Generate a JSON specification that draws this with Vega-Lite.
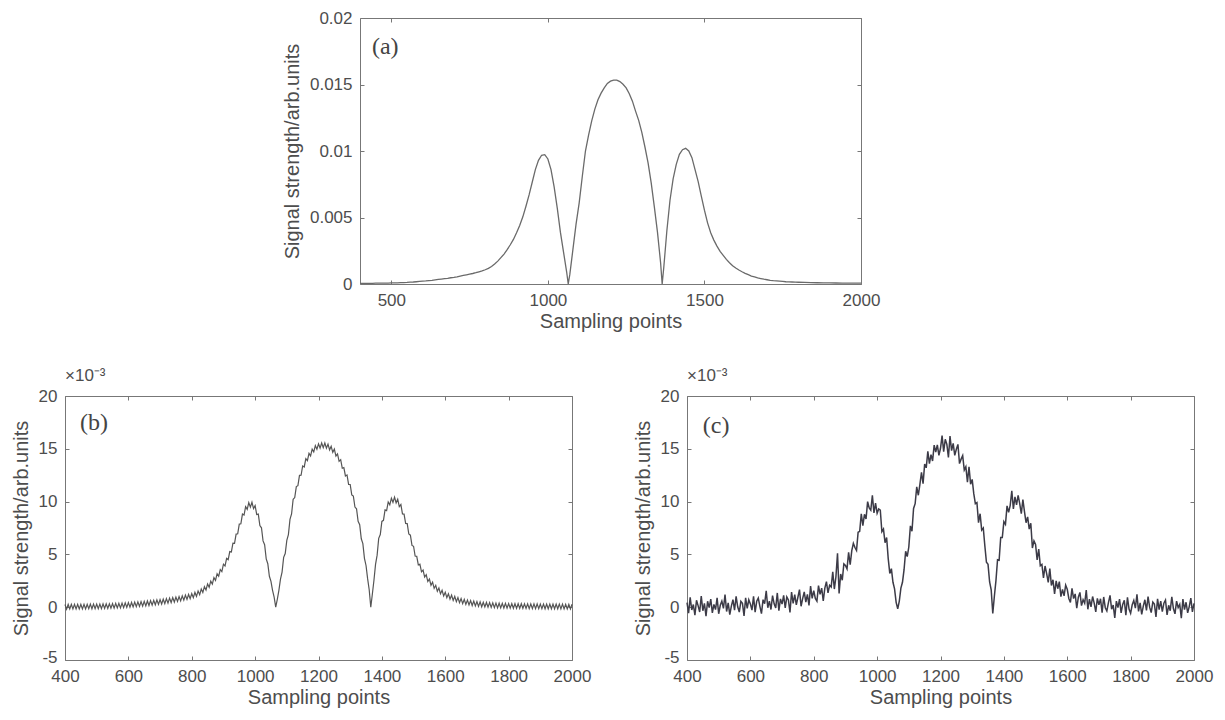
{
 "$schema": "https://vega.github.io/schema/vega-lite/v6.json",
 "background": "white",
 "padding": {"left": 10, "top": 8, "right": 5, "bottom": 5},
 "config": {
  "view": {"stroke": "#777777", "strokeWidth": 1},
  "font": "Liberation Sans",
  "axis": {"labelFont": "Liberation Sans", "labelFontSize": 17, "labelColor": "#4d4d4d", "titleFont": "Liberation Sans", "titleFontSize": 20, "titleFontWeight": "normal", "titleColor": "#4d4d4d", "grid": false, "domain": false, "tickColor": "#777777", "tickSize": -4, "labelFlush": false},
  "axisX": {"labelPadding": 12, "titlePadding": 3},
  "axisY": {"labelPadding": 12, "titlePadding": 7},
  "title": {"font": "Liberation Sans", "fontSize": 17, "fontWeight": "normal", "color": "#4d4d4d"}
 },
 "datasets": {
  "a": [
   {"x":400,"y":0.04},{"x":410,"y":0.04},{"x":420,"y":0.05},{"x":430,"y":0.05},{"x":440,"y":0.05},{"x":450,"y":0.06},{"x":460,"y":0.06},{"x":470,"y":0.06},{"x":480,"y":0.07},{"x":490,"y":0.07},
   {"x":500,"y":0.08},{"x":510,"y":0.08},{"x":520,"y":0.09},{"x":530,"y":0.10},{"x":540,"y":0.11},{"x":550,"y":0.12},{"x":560,"y":0.14},{"x":570,"y":0.15},{"x":580,"y":0.17},{"x":590,"y":0.19},
   {"x":600,"y":0.21},{"x":610,"y":0.23},{"x":620,"y":0.26},{"x":630,"y":0.28},{"x":640,"y":0.31},{"x":650,"y":0.34},{"x":660,"y":0.37},{"x":670,"y":0.40},{"x":680,"y":0.43},{"x":690,"y":0.47},
   {"x":700,"y":0.50},{"x":710,"y":0.54},{"x":720,"y":0.59},{"x":730,"y":0.64},{"x":740,"y":0.69},{"x":750,"y":0.74},{"x":760,"y":0.79},{"x":770,"y":0.85},{"x":780,"y":0.92},{"x":790,"y":0.99},
   {"x":800,"y":1.07},{"x":810,"y":1.18},{"x":820,"y":1.32},{"x":830,"y":1.50},{"x":840,"y":1.72},{"x":850,"y":1.98},{"x":860,"y":2.25},{"x":870,"y":2.58},{"x":880,"y":2.95},{"x":890,"y":3.35},
   {"x":900,"y":3.85},{"x":910,"y":4.4},{"x":920,"y":5.05},{"x":930,"y":5.85},{"x":940,"y":6.7},{"x":950,"y":7.65},{"x":960,"y":8.6},{"x":970,"y":9.3},{"x":980,"y":9.68},{"x":990,"y":9.72},
   {"x":1000,"y":9.4},{"x":1010,"y":8.6},{"x":1020,"y":7.3},{"x":1030,"y":5.7},{"x":1040,"y":3.9},{"x":1050,"y":2.4},{"x":1060,"y":0.9},{"x":1065,"y":0},{"x":1070,"y":0.7},{"x":1080,"y":2.6},{"x":1090,"y":4.5},
   {"x":1100,"y":6.1},{"x":1110,"y":8.1},{"x":1120,"y":10.0},{"x":1130,"y":11.2},{"x":1140,"y":12.26},{"x":1150,"y":13.15},{"x":1160,"y":13.85},{"x":1170,"y":14.35},{"x":1180,"y":14.75},{"x":1190,"y":15.08},
   {"x":1200,"y":15.25},{"x":1210,"y":15.33},{"x":1220,"y":15.33},{"x":1230,"y":15.22},{"x":1240,"y":15.02},{"x":1250,"y":14.75},{"x":1260,"y":14.3},{"x":1270,"y":13.75},{"x":1280,"y":13.0},{"x":1290,"y":12.3},
   {"x":1300,"y":11.4},{"x":1310,"y":10.3},{"x":1320,"y":9.1},{"x":1330,"y":7.6},{"x":1340,"y":5.8},{"x":1350,"y":3.9},{"x":1360,"y":1.6},{"x":1365,"y":0},{"x":1370,"y":1.2},{"x":1380,"y":4.0},{"x":1390,"y":6.3},
   {"x":1400,"y":7.9},{"x":1410,"y":9.0},{"x":1420,"y":9.75},{"x":1430,"y":10.1},{"x":1440,"y":10.2},{"x":1450,"y":10.0},{"x":1460,"y":9.5},{"x":1470,"y":8.6},{"x":1480,"y":7.7},{"x":1490,"y":6.6},
   {"x":1500,"y":5.55},{"x":1510,"y":4.6},{"x":1520,"y":3.85},{"x":1530,"y":3.3},{"x":1540,"y":2.85},{"x":1550,"y":2.45},{"x":1560,"y":2.15},{"x":1570,"y":1.85},{"x":1580,"y":1.6},{"x":1590,"y":1.38},
   {"x":1600,"y":1.2},{"x":1610,"y":1.05},{"x":1620,"y":0.92},{"x":1630,"y":0.8},{"x":1640,"y":0.7},{"x":1650,"y":0.6},{"x":1660,"y":0.53},{"x":1670,"y":0.46},{"x":1680,"y":0.41},{"x":1690,"y":0.36},
   {"x":1700,"y":0.32},{"x":1710,"y":0.28},{"x":1720,"y":0.25},{"x":1730,"y":0.23},{"x":1740,"y":0.21},{"x":1750,"y":0.19},{"x":1760,"y":0.17},{"x":1770,"y":0.16},{"x":1780,"y":0.15},{"x":1790,"y":0.14},
   {"x":1800,"y":0.13},{"x":1820,"y":0.12},{"x":1840,"y":0.105},{"x":1860,"y":0.095},{"x":1880,"y":0.088},{"x":1900,"y":0.08},{"x":1920,"y":0.076},{"x":1940,"y":0.072},{"x":1960,"y":0.068},{"x":1980,"y":0.064},{"x":2000,"y":0.06}
  ],
  "b": [
   {"x":400,"y":0.26},{"x":405,"y":-0.18},{"x":410,"y":0.26},{"x":415,"y":-0.17},{"x":420,"y":0.27},{"x":425,"y":-0.17},{"x":430,"y":0.27},{"x":435,"y":-0.17},{"x":440,"y":0.27},{"x":445,"y":-0.16},
   {"x":450,"y":0.28},{"x":455,"y":-0.16},{"x":460,"y":0.28},{"x":465,"y":-0.16},{"x":470,"y":0.28},{"x":475,"y":-0.15},{"x":480,"y":0.29},{"x":485,"y":-0.15},{"x":490,"y":0.29},{"x":495,"y":-0.14},
   {"x":500,"y":0.30},{"x":505,"y":-0.14},{"x":510,"y":0.30},{"x":515,"y":-0.13},{"x":520,"y":0.31},{"x":525,"y":-0.12},{"x":530,"y":0.32},{"x":535,"y":-0.11},{"x":540,"y":0.33},{"x":545,"y":-0.10},
   {"x":550,"y":0.34},{"x":555,"y":-0.09},{"x":560,"y":0.36},{"x":565,"y":-0.07},{"x":570,"y":0.37},{"x":575,"y":-0.06},{"x":580,"y":0.39},{"x":585,"y":-0.04},{"x":590,"y":0.41},{"x":595,"y":-0.02},
   {"x":600,"y":0.43},{"x":605,"y":0.0},{"x":610,"y":0.45},{"x":615,"y":0.02},{"x":620,"y":0.48},{"x":625,"y":0.05},{"x":630,"y":0.50},{"x":635,"y":0.07},{"x":640,"y":0.53},{"x":645,"y":0.10},
   {"x":650,"y":0.56},{"x":655,"y":0.13},{"x":660,"y":0.59},{"x":665,"y":0.16},{"x":670,"y":0.62},{"x":675,"y":0.19},{"x":680,"y":0.65},{"x":685,"y":0.23},{"x":690,"y":0.69},{"x":695,"y":0.26},
   {"x":700,"y":0.72},{"x":705,"y":0.30},{"x":710,"y":0.76},{"x":715,"y":0.34},{"x":720,"y":0.81},{"x":725,"y":0.39},{"x":730,"y":0.86},{"x":735,"y":0.44},{"x":740,"y":0.91},{"x":745,"y":0.49},
   {"x":750,"y":0.96},{"x":755,"y":0.54},{"x":760,"y":1.01},{"x":765,"y":0.60},{"x":770,"y":1.07},{"x":775,"y":0.66},{"x":780,"y":1.14},{"x":785,"y":0.73},{"x":790,"y":1.21},{"x":795,"y":0.81},
   {"x":800,"y":1.29},{"x":805,"y":0.90},{"x":810,"y":1.40},{"x":815,"y":1.03},{"x":820,"y":1.54},{"x":825,"y":1.19},{"x":830,"y":1.72},{"x":835,"y":1.39},{"x":840,"y":1.94},{"x":845,"y":1.63},
   {"x":850,"y":2.20},{"x":855,"y":1.89},{"x":860,"y":2.47},{"x":865,"y":2.19},{"x":870,"y":2.80},{"x":875,"y":2.54},{"x":880,"y":3.17},{"x":885,"y":2.93},{"x":890,"y":3.57},{"x":895,"y":3.38},
   {"x":900,"y":4.07},{"x":905,"y":3.90},{"x":910,"y":4.62},{"x":915,"y":4.50},{"x":920,"y":5.27},{"x":925,"y":5.23},{"x":930,"y":6.07},{"x":935,"y":6.05},{"x":940,"y":6.92},{"x":945,"y":6.95},
   {"x":950,"y":7.87},{"x":955,"y":7.90},{"x":960,"y":8.82},{"x":965,"y":8.73},{"x":970,"y":9.52},{"x":975,"y":9.27},{"x":980,"y":9.90},{"x":985,"y":9.48},{"x":990,"y":9.94},{"x":995,"y":9.34},
   {"x":1000,"y":9.62},{"x":1005,"y":8.78},{"x":1010,"y":8.82},{"x":1015,"y":7.73},{"x":1020,"y":7.52},{"x":1025,"y":6.28},{"x":1030,"y":5.92},{"x":1035,"y":4.58},{"x":1040,"y":4.12},{"x":1045,"y":2.93},
   {"x":1050,"y":2.45},{"x":1055,"y":1.60},{"x":1060,"y":0.95},{"x":1065,"y":0.0},{"x":1070,"y":0.75},{"x":1075,"y":1.60},{"x":1080,"y":2.65},{"x":1085,"y":3.33},{"x":1090,"y":4.72},{"x":1095,"y":5.08},
   {"x":1100,"y":6.32},{"x":1105,"y":6.88},{"x":1110,"y":8.32},{"x":1115,"y":8.83},{"x":1120,"y":10.22},{"x":1125,"y":10.38},{"x":1130,"y":11.42},{"x":1135,"y":11.51},{"x":1140,"y":12.48},{"x":1145,"y":12.49},
   {"x":1150,"y":13.37},{"x":1155,"y":13.28},{"x":1160,"y":14.07},{"x":1165,"y":13.88},{"x":1170,"y":14.57},{"x":1175,"y":14.33},{"x":1180,"y":14.97},{"x":1185,"y":14.70},{"x":1190,"y":15.30},{"x":1195,"y":14.95},
   {"x":1200,"y":15.47},{"x":1205,"y":15.07},{"x":1210,"y":15.55},{"x":1215,"y":15.11},{"x":1220,"y":15.55},{"x":1225,"y":15.06},{"x":1230,"y":15.44},{"x":1235,"y":14.90},{"x":1240,"y":15.24},{"x":1245,"y":14.67},
   {"x":1250,"y":14.97},{"x":1255,"y":14.31},{"x":1260,"y":14.52},{"x":1265,"y":13.81},{"x":1270,"y":13.97},{"x":1275,"y":13.16},{"x":1280,"y":13.22},{"x":1285,"y":12.43},{"x":1290,"y":12.52},{"x":1295,"y":11.63},
   {"x":1300,"y":11.62},{"x":1305,"y":10.63},{"x":1310,"y":10.52},{"x":1315,"y":9.48},{"x":1320,"y":9.32},{"x":1325,"y":8.13},{"x":1330,"y":7.82},{"x":1335,"y":6.48},{"x":1340,"y":6.02},{"x":1345,"y":4.63},
   {"x":1350,"y":3.95},{"x":1355,"y":2.70},{"x":1360,"y":1.65},{"x":1365,"y":0.0},{"x":1370,"y":1.25},{"x":1375,"y":2.55},{"x":1380,"y":4.05},{"x":1385,"y":4.93},{"x":1390,"y":6.52},{"x":1395,"y":6.88},
   {"x":1400,"y":8.12},{"x":1405,"y":8.23},{"x":1410,"y":9.22},{"x":1415,"y":9.15},{"x":1420,"y":9.97},{"x":1425,"y":9.70},{"x":1430,"y":10.32},{"x":1435,"y":9.93},{"x":1440,"y":10.42},{"x":1445,"y":9.88},
   {"x":1450,"y":10.22},{"x":1455,"y":9.53},{"x":1460,"y":9.72},{"x":1465,"y":8.83},{"x":1470,"y":8.82},{"x":1475,"y":7.93},{"x":1480,"y":7.92},{"x":1485,"y":6.93},{"x":1490,"y":6.82},{"x":1495,"y":5.85},
   {"x":1500,"y":5.77},{"x":1505,"y":4.85},{"x":1510,"y":4.82},{"x":1515,"y":4.00},{"x":1520,"y":4.07},{"x":1525,"y":3.35},{"x":1530,"y":3.52},{"x":1535,"y":2.85},{"x":1540,"y":3.07},{"x":1545,"y":2.43},
   {"x":1550,"y":2.67},{"x":1555,"y":2.08},{"x":1560,"y":2.37},{"x":1565,"y":1.78},{"x":1570,"y":2.07},{"x":1575,"y":1.50},{"x":1580,"y":1.82},{"x":1585,"y":1.27},{"x":1590,"y":1.60},{"x":1595,"y":1.07},
   {"x":1600,"y":1.42},{"x":1605,"y":0.90},{"x":1610,"y":1.27},{"x":1615,"y":0.76},{"x":1620,"y":1.14},{"x":1625,"y":0.64},{"x":1630,"y":1.02},{"x":1635,"y":0.53},{"x":1640,"y":0.92},{"x":1645,"y":0.43},
   {"x":1650,"y":0.82},{"x":1655,"y":0.34},{"x":1660,"y":0.75},{"x":1665,"y":0.27},{"x":1670,"y":0.68},{"x":1675,"y":0.21},{"x":1680,"y":0.63},{"x":1685,"y":0.16},{"x":1690,"y":0.58},{"x":1695,"y":0.12},
   {"x":1700,"y":0.54},{"x":1705,"y":0.08},{"x":1710,"y":0.50},{"x":1715,"y":0.04},{"x":1720,"y":0.47},{"x":1725,"y":0.02},{"x":1730,"y":0.45},{"x":1735,"y":0.0},{"x":1740,"y":0.43},{"x":1745,"y":-0.02},
   {"x":1750,"y":0.41},{"x":1755,"y":-0.04},{"x":1760,"y":0.39},{"x":1765,"y":-0.06},{"x":1770,"y":0.38},{"x":1775,"y":-0.07},{"x":1780,"y":0.37},{"x":1785,"y":-0.08},{"x":1790,"y":0.36},{"x":1795,"y":-0.09},
   {"x":1800,"y":0.35},{"x":1805,"y":-0.09},{"x":1810,"y":0.35},{"x":1815,"y":-0.10},{"x":1820,"y":0.34},{"x":1825,"y":-0.11},{"x":1830,"y":0.33},{"x":1835,"y":-0.11},{"x":1840,"y":0.33},{"x":1845,"y":-0.12},
   {"x":1850,"y":0.32},{"x":1855,"y":-0.12},{"x":1860,"y":0.32},{"x":1865,"y":-0.13},{"x":1870,"y":0.31},{"x":1875,"y":-0.13},{"x":1880,"y":0.31},{"x":1885,"y":-0.13},{"x":1890,"y":0.31},{"x":1895,"y":-0.14},
   {"x":1900,"y":0.30},{"x":1905,"y":-0.14},{"x":1910,"y":0.30},{"x":1915,"y":-0.15},{"x":1920,"y":0.30},{"x":1925,"y":-0.15},{"x":1930,"y":0.29},{"x":1935,"y":-0.15},{"x":1940,"y":0.29},{"x":1945,"y":-0.15},
   {"x":1950,"y":0.29},{"x":1955,"y":-0.15},{"x":1960,"y":0.29},{"x":1965,"y":-0.16},{"x":1970,"y":0.29},{"x":1975,"y":-0.16},{"x":1980,"y":0.28},{"x":1985,"y":-0.16},{"x":1990,"y":0.28},{"x":1995,"y":-0.16},{"x":2000,"y":0.28}
  ],
  "c": [
   {"x":400,"y":0.44},{"x":405,"y":-0.56},{"x":410,"y":0.94},{"x":415,"y":-0.26},{"x":420,"y":0.25},{"x":425,"y":-0.75},{"x":430,"y":0.65},{"x":435,"y":0.15},{"x":440,"y":-0.45},{"x":445,"y":1.06},
   {"x":450,"y":-0.34},{"x":455,"y":0.36},{"x":460,"y":-0.84},{"x":465,"y":0.56},{"x":470,"y":-0.04},{"x":475,"y":0.77},{"x":480,"y":-0.53},{"x":485,"y":0.27},{"x":490,"y":-0.23},{"x":495,"y":0.88},
   {"x":500,"y":-0.62},{"x":505,"y":0.18},{"x":510,"y":0.58},{"x":515,"y":-0.12},{"x":520,"y":1.19},{"x":525,"y":-0.41},{"x":530,"y":0.40},{"x":535,"y":-0.70},{"x":540,"y":0.11},{"x":545,"y":0.72},
   {"x":550,"y":-0.28},{"x":555,"y":1.03},{"x":560,"y":0.04},{"x":565,"y":-0.46},{"x":570,"y":0.55},{"x":575,"y":0.36},{"x":580,"y":-0.83},{"x":585,"y":0.88},{"x":590,"y":-0.11},{"x":595,"y":0.70},
   {"x":600,"y":0.31},{"x":605,"y":-0.28},{"x":610,"y":1.03},{"x":615,"y":-0.46},{"x":620,"y":0.56},{"x":625,"y":0.87},{"x":630,"y":0.08},{"x":635,"y":-0.61},{"x":640,"y":0.71},{"x":645,"y":0.33},
   {"x":650,"y":1.54},{"x":655,"y":-0.05},{"x":660,"y":0.57},{"x":665,"y":-0.22},{"x":670,"y":1.10},{"x":675,"y":0.32},{"x":680,"y":-0.07},{"x":685,"y":1.35},{"x":690,"y":-0.33},{"x":695,"y":0.79},
   {"x":700,"y":0.30},{"x":705,"y":1.12},{"x":710,"y":-0.06},{"x":715,"y":0.97},{"x":720,"y":0.69},{"x":725,"y":-0.49},{"x":730,"y":1.44},{"x":735,"y":0.37},{"x":740,"y":1.19},{"x":745,"y":0.22},
   {"x":750,"y":0.94},{"x":755,"y":1.67},{"x":760,"y":0.09},{"x":765,"y":0.82},{"x":770,"y":1.45},{"x":775,"y":0.49},{"x":780,"y":1.22},{"x":785,"y":0.16},{"x":790,"y":1.99},{"x":795,"y":0.83},
   {"x":800,"y":1.57},{"x":805,"y":0.83},{"x":810,"y":0.58},{"x":815,"y":2.05},{"x":820,"y":1.22},{"x":825,"y":1.81},{"x":830,"y":0.60},{"x":835,"y":1.81},{"x":840,"y":2.42},{"x":845,"y":1.35},
   {"x":850,"y":2.08},{"x":855,"y":1.92},{"x":860,"y":3.35},{"x":865,"y":1.72},{"x":870,"y":2.88},{"x":875,"y":5.1},{"x":880,"y":1.3},{"x":885,"y":3.15},{"x":890,"y":2.55},{"x":895,"y":4.10},
   {"x":900,"y":3.95},{"x":905,"y":3.63},{"x":910,"y":5.20},{"x":915,"y":4.03},{"x":920,"y":5.35},{"x":925,"y":6.05},{"x":930,"y":5.65},{"x":935,"y":5.38},{"x":940,"y":7.10},{"x":945,"y":7.18},
   {"x":950,"y":8.85},{"x":955,"y":7.73},{"x":960,"y":8.80},{"x":965,"y":8.35},{"x":970,"y":10.0},{"x":975,"y":9.39},{"x":980,"y":9.18},{"x":985,"y":10.60},{"x":990,"y":8.92},{"x":995,"y":9.86},
   {"x":1000,"y":8.90},{"x":1005,"y":9.30},{"x":1010,"y":9.20},{"x":1015,"y":7.15},{"x":1020,"y":7.40},{"x":1025,"y":6.10},{"x":1030,"y":6.60},{"x":1035,"y":4.60},{"x":1040,"y":3.20},{"x":1045,"y":3.65},
   {"x":1050,"y":2.36},{"x":1055,"y":1.73},{"x":1060,"y":0.46},{"x":1065,"y":-0.15},{"x":1070,"y":0.58},{"x":1075,"y":1.81},{"x":1080,"y":2.36},{"x":1085,"y":3.55},{"x":1090,"y":5.30},{"x":1095,"y":4.80},
   {"x":1100,"y":5.70},{"x":1105,"y":7.70},{"x":1110,"y":7.20},{"x":1115,"y":9.35},{"x":1120,"y":9.80},{"x":1125,"y":11.40},{"x":1130,"y":10.60},{"x":1135,"y":11.63},{"x":1140,"y":12.76},{"x":1145,"y":11.70},
   {"x":1150,"y":13.55},{"x":1155,"y":13.20},{"x":1160,"y":14.75},{"x":1165,"y":13.60},{"x":1170,"y":14.45},{"x":1175,"y":13.85},{"x":1180,"y":15.35},{"x":1185,"y":14.70},{"x":1190,"y":15.38},{"x":1195,"y":14.37},
   {"x":1200,"y":15.05},{"x":1205,"y":16.25},{"x":1210,"y":14.73},{"x":1215,"y":15.90},{"x":1220,"y":15.43},{"x":1225,"y":14.18},{"x":1230,"y":16.20},{"x":1235,"y":14.82},{"x":1240,"y":15.52},{"x":1245,"y":14.38},
   {"x":1250,"y":14.95},{"x":1255,"y":15.42},{"x":1260,"y":13.60},{"x":1265,"y":14.02},{"x":1270,"y":14.35},{"x":1275,"y":12.98},{"x":1280,"y":13.30},{"x":1285,"y":11.85},{"x":1290,"y":13.30},{"x":1295,"y":11.65},
   {"x":1300,"y":12.10},{"x":1305,"y":10.75},{"x":1310,"y":9.80},{"x":1315,"y":9.90},{"x":1320,"y":8.00},{"x":1325,"y":8.85},{"x":1330,"y":7.30},{"x":1335,"y":7.50},{"x":1340,"y":5.80},{"x":1345,"y":4.25},
   {"x":1350,"y":4.06},{"x":1355,"y":2.39},{"x":1360,"y":1.64},{"x":1365,"y":-0.6},{"x":1370,"y":1.04},{"x":1375,"y":2.52},{"x":1380,"y":4.50},{"x":1385,"y":4.45},{"x":1390,"y":6.60},{"x":1395,"y":6.60},
   {"x":1400,"y":8.10},{"x":1405,"y":7.85},{"x":1410,"y":9.60},{"x":1415,"y":8.98},{"x":1420,"y":9.65},{"x":1425,"y":11.03},{"x":1430,"y":9.30},{"x":1435,"y":10.45},{"x":1440,"y":9.70},{"x":1445,"y":10.60},
   {"x":1450,"y":9.80},{"x":1455,"y":8.85},{"x":1460,"y":10.20},{"x":1465,"y":9.05},{"x":1470,"y":8.00},{"x":1475,"y":8.55},{"x":1480,"y":7.40},{"x":1485,"y":7.95},{"x":1490,"y":5.60},{"x":1495,"y":6.28},
   {"x":1500,"y":5.95},{"x":1505,"y":4.48},{"x":1510,"y":5.50},{"x":1515,"y":3.93},{"x":1520,"y":4.05},{"x":1525,"y":2.78},{"x":1530,"y":3.90},{"x":1535,"y":3.18},{"x":1540,"y":2.35},{"x":1545,"y":3.65},
   {"x":1550,"y":2.05},{"x":1555,"y":2.60},{"x":1560,"y":1.25},{"x":1565,"y":2.50},{"x":1570,"y":1.75},{"x":1575,"y":2.43},{"x":1580,"y":1.00},{"x":1585,"y":1.69},{"x":1590,"y":1.08},{"x":1595,"y":2.09},
   {"x":1600,"y":1.70},{"x":1605,"y":0.83},{"x":1610,"y":0.45},{"x":1615,"y":1.79},{"x":1620,"y":0.82},{"x":1625,"y":1.26},{"x":1630,"y":-0.10},{"x":1635,"y":0.95},{"x":1640,"y":1.40},{"x":1645,"y":0.15},
   {"x":1650,"y":0.70},{"x":1655,"y":0.37},{"x":1660,"y":1.63},{"x":1665,"y":-0.20},{"x":1670,"y":0.76},{"x":1675,"y":0.04},{"x":1680,"y":1.01},{"x":1685,"y":0.39},{"x":1690,"y":-0.44},{"x":1695,"y":0.84},
   {"x":1700,"y":0.22},{"x":1705,"y":0.80},{"x":1710,"y":-0.52},{"x":1715,"y":0.97},{"x":1720,"y":-0.05},{"x":1725,"y":-0.36},{"x":1730,"y":0.43},{"x":1735,"y":1.12},{"x":1740,"y":-0.19},{"x":1745,"y":0.20},
   {"x":1750,"y":-1.01},{"x":1755,"y":0.58},{"x":1760,"y":-0.03},{"x":1765,"y":0.77},{"x":1770,"y":-0.54},{"x":1775,"y":0.26},{"x":1780,"y":0.65},{"x":1785,"y":-0.76},{"x":1790,"y":0.94},{"x":1795,"y":-0.17},
   {"x":1800,"y":-0.57},{"x":1805,"y":0.23},{"x":1810,"y":0.63},{"x":1815,"y":-0.08},{"x":1820,"y":1.22},{"x":1825,"y":-0.39},{"x":1830,"y":0.41},{"x":1835,"y":-0.69},{"x":1840,"y":0.11},{"x":1845,"y":0.70},
   {"x":1850,"y":-0.30},{"x":1855,"y":1.00},{"x":1860,"y":0.0},{"x":1865,"y":-0.51},{"x":1870,"y":0.49},{"x":1875,"y":0.29},{"x":1880,"y":-0.91},{"x":1885,"y":0.79},{"x":1890,"y":-0.22},{"x":1895,"y":0.58},
   {"x":1900,"y":-0.42},{"x":1905,"y":0.38},{"x":1910,"y":0.68},{"x":1915,"y":-0.72},{"x":1920,"y":0.18},{"x":1925,"y":-0.33},{"x":1930,"y":0.97},{"x":1935,"y":-0.13},{"x":1940,"y":-0.63},{"x":1945,"y":0.57},
   {"x":1950,"y":-0.03},{"x":1955,"y":0.27},{"x":1960,"y":-1.03},{"x":1965,"y":0.77},{"x":1970,"y":-0.23},{"x":1975,"y":0.47},{"x":1980,"y":-0.54},{"x":1985,"y":0.06},{"x":1990,"y":0.86},{"x":1995,"y":-0.44},{"x":2000,"y":0.36}
  ]
 },
 "spacing": 34,
 "vconcat": [
  {
   "bounds": "flush",
   "spacing": 0,
   "hconcat": [
    {"width": 295, "height": 10, "view": {"stroke": null}, "data": {"values": [{}]}, "mark": {"type": "point", "opacity": 0}, "encoding": {}},
    {
     "width": 501, "height": 266,
     "layer": [
      {"data": {"name": "a"}, "mark": {"type": "line", "color": "#6a6a6a", "strokeWidth": 1.3},
       "encoding": {
        "x": {"field": "x", "type": "quantitative", "scale": {"domain": [400, 2000], "nice": false, "zero": false}, "axis": {"orient": "bottom", "values": [500, 1000, 1500, 2000], "format": "d", "title": "Sampling points"}},
        "y": {"field": "y", "type": "quantitative", "scale": {"domain": [0, 20], "nice": false}, "axis": {"orient": "left", "values": [0, 5, 10, 15, 20], "labelExpr": "'' + datum.value / 1000", "title": "Signal strength/arb.units"}}
       }},
      {"data": {"values": [{"t": "(a)"}]}, "mark": {"type": "text", "font": "Liberation Serif", "fontSize": 24, "align": "left", "baseline": "middle", "color": "#444444"},
       "encoding": {
        "x": {"datum": 438, "type": "quantitative", "axis": {"orient": "top", "values": [500, 1000, 1500, 2000], "labels": false, "title": null}},
        "y": {"datum": 17.8, "type": "quantitative", "axis": {"orient": "right", "values": [0, 5, 10, 15, 20], "labels": false, "title": null}},
        "text": {"field": "t"}
       }}
     ],
     "resolve": {"axis": {"x": "independent", "y": "independent"}}
    }
   ]
  },
  {
   "bounds": "flush",
   "spacing": 115,
   "hconcat": [
    {
     "width": 507, "height": 264,
     "title": {"text": "×10⁻³", "anchor": "start", "frame": "group", "offset": 2},
     "layer": [
      {"data": {"name": "b"}, "mark": {"type": "line", "color": "#555555", "strokeWidth": 1.2},
       "encoding": {
        "x": {"field": "x", "type": "quantitative", "scale": {"domain": [400, 2000], "nice": false, "zero": false}, "axis": {"orient": "bottom", "values": [400, 600, 800, 1000, 1200, 1400, 1600, 1800, 2000], "format": "d", "title": "Sampling points"}},
        "y": {"field": "y", "type": "quantitative", "scale": {"domain": [-5, 20], "nice": false, "zero": false}, "axis": {"orient": "left", "values": [-5, 0, 5, 10, 15, 20], "labelExpr": "'' + datum.value", "labelOffset": {"condition": {"test": "datum.value == -5", "value": -3}, "value": 0}, "title": "Signal strength/arb.units"}}
       }},
      {"data": {"values": [{"t": "(b)"}]}, "mark": {"type": "text", "font": "Liberation Serif", "fontSize": 24, "align": "left", "baseline": "middle", "color": "#444444"},
       "encoding": {
        "x": {"datum": 447, "type": "quantitative", "axis": {"orient": "top", "values": [400, 600, 800, 1000, 1200, 1400, 1600, 1800, 2000], "labels": false, "title": null}},
        "y": {"datum": 17.4, "type": "quantitative", "axis": {"orient": "right", "values": [-5, 0, 5, 10, 15, 20], "labels": false, "title": null}},
        "text": {"field": "t"}
       }}
     ],
     "resolve": {"axis": {"x": "independent", "y": "independent"}}
    },
    {
     "width": 507, "height": 264,
     "title": {"text": "×10⁻³", "anchor": "start", "frame": "group", "offset": 2},
     "layer": [
      {"data": {"name": "c"}, "mark": {"type": "line", "color": "#3c3b47", "strokeWidth": 1.5},
       "encoding": {
        "x": {"field": "x", "type": "quantitative", "scale": {"domain": [400, 2000], "nice": false, "zero": false}, "axis": {"orient": "bottom", "values": [400, 600, 800, 1000, 1200, 1400, 1600, 1800, 2000], "format": "d", "title": "Sampling points"}},
        "y": {"field": "y", "type": "quantitative", "scale": {"domain": [-5, 20], "nice": false, "zero": false}, "axis": {"orient": "left", "values": [-5, 0, 5, 10, 15, 20], "labelExpr": "'' + datum.value", "labelOffset": {"condition": {"test": "datum.value == -5", "value": -3}, "value": 0}, "title": "Signal strength/arb.units"}}
       }},
      {"data": {"values": [{"t": "(c)"}]}, "mark": {"type": "text", "font": "Liberation Serif", "fontSize": 24, "align": "left", "baseline": "middle", "color": "#444444"},
       "encoding": {
        "x": {"datum": 450, "type": "quantitative", "axis": {"orient": "top", "values": [400, 600, 800, 1000, 1200, 1400, 1600, 1800, 2000], "labels": false, "title": null}},
        "y": {"datum": 17.2, "type": "quantitative", "axis": {"orient": "right", "values": [-5, 0, 5, 10, 15, 20], "labels": false, "title": null}},
        "text": {"field": "t"}
       }}
     ],
     "resolve": {"axis": {"x": "independent", "y": "independent"}}
    }
   ]
  }
 ]
}
